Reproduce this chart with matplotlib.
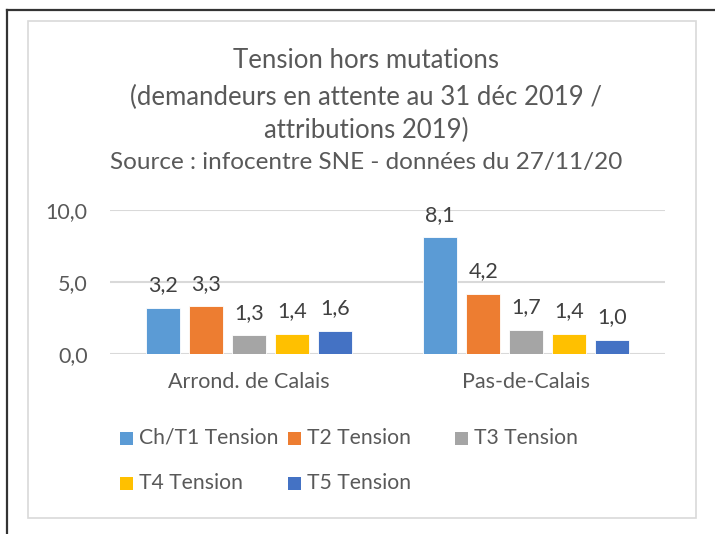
import matplotlib
matplotlib.use("Agg")
import matplotlib.pyplot as plt
from matplotlib.patches import Rectangle
from matplotlib.lines import Line2D
import numpy as np

categories = ["Arrond. de Calais", "Pas-de-Calais"]
series_names = ["Ch/T1 Tension", "T2 Tension", "T3 Tension", "T4 Tension", "T5 Tension"]
t1 = [3.2, 8.1]
t2 = [3.3, 4.2]
t3 = [1.3, 1.7]
t4 = [1.4, 1.4]
t5 = [1.6, 1.0]
series_values = [t1, t2, t3, t4, t5]
colors = ["#5B9BD5", "#ED7D31", "#A5A5A5", "#FFC000", "#4472C4"]
yticks = [0, 5, 10]
title_lines = ["Tension hors mutations",
               "(demandeurs en attente au 31 déc 2019 /",
               "attributions 2019)",
               "Source : infocentre SNE - données du 27/11/20"]

FONT = "Lato"
plt.rcParams['font.family'] = [FONT, 'DejaVu Sans']

W, H = 715, 534
fig = plt.figure(figsize=(W/100, H/100), dpi=100)

def fx(px): return px / W
def fy(py): return 1 - py / H

# outer frame lines
fig.add_artist(Line2D([fx(7), fx(715)], [fy(10), fy(10)], color="#333333", lw=1.6))
fig.add_artist(Line2D([fx(7), fx(7)], [fy(10), fy(534)], color="#333333", lw=1.6))
# inner chart box
fig.add_artist(Rectangle((fx(28), fy(518)), fx(696) - fx(28), fy(21) - fy(518),
                         fill=False, edgecolor="#D9D9D9", lw=1.2))

ax = fig.add_axes([fx(110), fy(354), fx(665) - fx(110), fy(210) - fy(354)])
x = np.arange(len(categories))
bw = 0.1225
step = 0.155
for i, (vals, c) in enumerate(zip(series_values, colors)):
    pos = x + (i - 2) * step
    ax.bar(pos, vals, width=bw, color=c, edgecolor="white", linewidth=0.6, zorder=3)
    for xb, v in zip(pos, vals):
        ax.annotate(f"{v:.1f}".replace(".", ","), (xb, v), xytext=(0, 9),
                    textcoords="offset points", ha="center", va="bottom",
                    fontsize=15.5, color="#404040")

ax.set_xlim(-0.5, 1.5)
ax.set_ylim(0, 10)
ax.set_yticks(yticks)
ax.set_yticklabels([f"{t:.1f}".replace(".", ",") for t in yticks])
ax.set_xticks(x)
ax.set_xticklabels(categories)
ax.tick_params(axis="y", length=0, pad=16, labelsize=15.5, labelcolor="#595959")
ax.tick_params(axis="x", length=0, pad=13, labelsize=15.5, labelcolor="#595959")
ax.yaxis.grid(True, color="#D9D9D9", lw=1.5, zorder=0)
for s in ax.spines.values():
    s.set_visible(False)
ax.set_facecolor("none")

# title
ys = [60, 97, 130, 163]
sizes = [18.5, 18.5, 18.5, 17.5]
for t, yy, fs in zip(title_lines, ys, sizes):
    fig.text(fx(366), fy(yy), t, ha="center", va="center", fontsize=fs, color="#595959")

# legend (manual layout)
leg_pos = [(120, 438), (288, 438), (455, 438), (120, 483), (288, 483)]
for name, c, (lx, ly) in zip(series_names, colors, leg_pos):
    fig.add_artist(Rectangle((fx(lx), fy(ly + 6.5)), fx(13), 13 / H,
                             facecolor=c, edgecolor="none"))
    fig.text(fx(lx + 19), fy(ly), name, ha="left", va="center", fontsize=15.2, color="#595959")

fig.savefig("out.png", dpi=100)
